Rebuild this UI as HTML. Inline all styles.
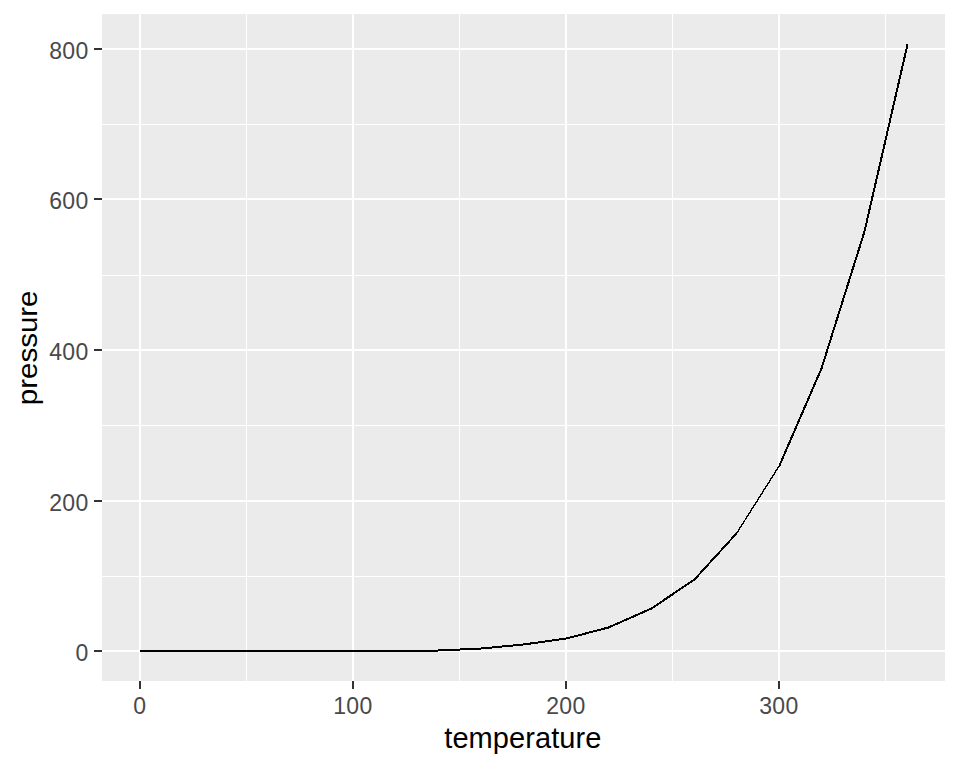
<!DOCTYPE html>
<html><head><meta charset="utf-8"><title>pressure</title>
<style>
html,body{margin:0;padding:0;background:#fff;}
body{width:960px;height:768px;overflow:hidden;font-family:"Liberation Sans",sans-serif;}
svg{display:block;}
text{font-family:"Liberation Sans",sans-serif;}
.tk{font-size:23px;fill:#494949;letter-spacing:0.27px;}
.ti{font-size:29px;fill:#000;}
.tx{letter-spacing:0.07px;}
</style></head><body>
<svg width="960" height="768" viewBox="0 0 960 768">
<rect x="0" y="0" width="960" height="768" fill="#ffffff"/>
<rect x="102" y="14" width="843" height="667" fill="#ebebeb"/>
<g fill="#ffffff" shape-rendering="crispEdges">
<rect x="102" y="576" width="843" height="1"/>
<rect x="102" y="425" width="843" height="1"/>
<rect x="102" y="275" width="843" height="1"/>
<rect x="102" y="124" width="843" height="1"/>
<rect x="246" y="14" width="1" height="667"/>
<rect x="459" y="14" width="1" height="667"/>
<rect x="672" y="14" width="1" height="667"/>
<rect x="885" y="14" width="1" height="667"/>
<rect x="102" y="650" width="843" height="2"/>
<rect x="102" y="500" width="843" height="2"/>
<rect x="102" y="349" width="843" height="2"/>
<rect x="102" y="198" width="843" height="2"/>
<rect x="102" y="48" width="843" height="2"/>
<rect x="139" y="14" width="2" height="667"/>
<rect x="352" y="14" width="2" height="667"/>
<rect x="565" y="14" width="2" height="667"/>
<rect x="778" y="14" width="2" height="667"/>
</g>
<g fill="none" stroke="#000000" shape-rendering="crispEdges" stroke-linejoin="round" stroke-linecap="butt">
<polyline points="140.49,651.49 182.49,651.49 225.49,651.49 268.49,651.49 310.49,651.49 353.49,651.49 395.49,651.49 438.49,650.49 481.49,648.49 523.49,644.49 566.49,638.49 608.49,627.49 651.49,608.49 694.49,579.49 736.49,533.49" stroke-width="2"/>
<polyline points="736.49,533.49 779.49,465.49" stroke-width="1.35"/>
<polyline points="779.49,465.49 821.49,368.49 864.49,231.49 907.49,44.49" stroke-width="2"/>
</g>
<g fill="#333333" shape-rendering="crispEdges">
<rect x="94" y="650" width="8" height="2"/>
<rect x="94" y="500" width="8" height="2"/>
<rect x="94" y="349" width="8" height="2"/>
<rect x="94" y="198" width="8" height="2"/>
<rect x="94" y="48" width="8" height="2"/>
<rect x="139" y="681" width="2" height="8"/>
<rect x="352" y="681" width="2" height="8"/>
<rect x="565" y="681" width="2" height="8"/>
<rect x="778" y="681" width="2" height="8"/>
</g>
<text class="tk" x="88.5" y="660.9" text-anchor="end">0</text>
<text class="tk" x="88.5" y="510.9" text-anchor="end">200</text>
<text class="tk" x="88.5" y="359.9" text-anchor="end">400</text>
<text class="tk" x="88.5" y="208.9" text-anchor="end">600</text>
<text class="tk" x="88.5" y="58.9" text-anchor="end">800</text>
<text class="tk" x="139.9" y="713.9" text-anchor="middle">0</text>
<text class="tk" x="352.9" y="713.9" text-anchor="middle">100</text>
<text class="tk" x="565.9" y="713.9" text-anchor="middle">200</text>
<text class="tk" x="778.9" y="713.9" text-anchor="middle">300</text>
<text class="ti tx" x="522.85" y="747.9" text-anchor="middle">temperature</text>
<text class="ti" transform="translate(37.2,347.85) rotate(-90) scale(1.017,0.93)" text-anchor="middle">pressure</text>
</svg>
</body></html>
